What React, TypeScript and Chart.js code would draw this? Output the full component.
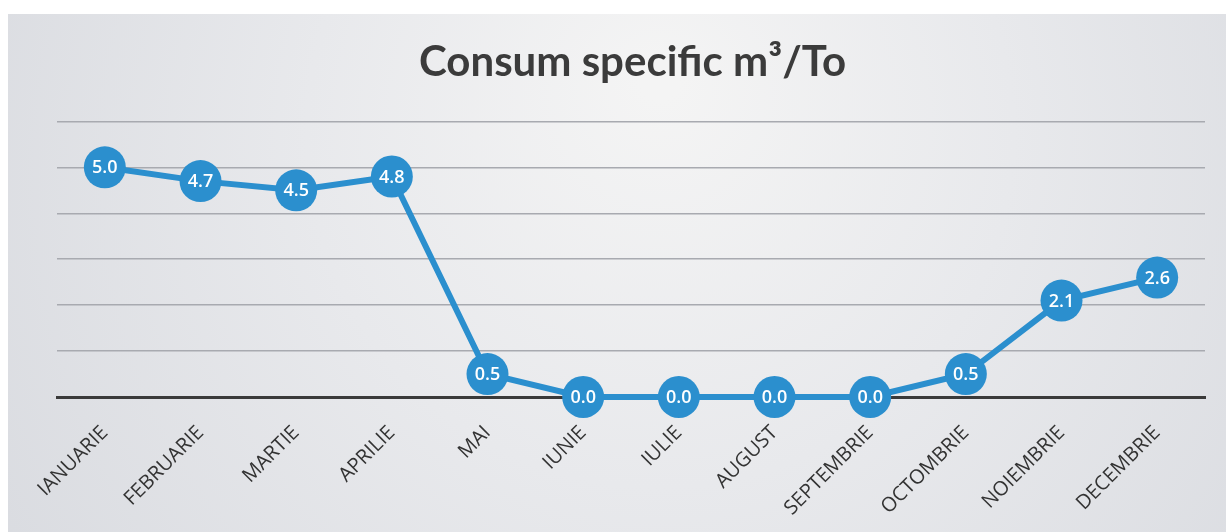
import React, { useEffect, useRef } from "react";
import { Chart, registerables } from "chart.js";

Chart.register(...registerables);

const months = [
  "IANUARIE", "FEBRUARIE", "MARTIE", "APRILIE", "MAI", "IUNIE",
  "IULIE", "AUGUST", "SEPTEMBRIE", "OCTOMBRIE", "NOIEMBRIE", "DECEMBRIE",
];
const consum = [5.0, 4.7, 4.5, 4.8, 0.5, 0.0, 0.0, 0.0, 0.0, 0.5, 2.1, 2.6];
const titleText = "Consum specific m³/To";

const BLUE = "#2b8fce";

const backgroundPlugin = {
  id: "paperBackground",
  beforeDraw(chart: any) {
    const { ctx, width, height } = chart;
    ctx.save();
    ctx.fillStyle = "#ffffff";
    ctx.fillRect(0, 0, width, height);
    const g = ctx.createRadialGradient(660, 80, 20, 660, 200, 760);
    g.addColorStop(0, "#f4f4f4");
    g.addColorStop(0.45, "#e8e9ec");
    g.addColorStop(1, "#d9dbe0");
    ctx.fillStyle = g;
    ctx.fillRect(8, 14, width - 8, height - 14);
    ctx.restore();
  },
};

const valueLabelPlugin = {
  id: "valueLabels",
  afterDatasetsDraw(chart: any) {
    const { ctx } = chart;
    const meta = chart.getDatasetMeta(0);
    const data = chart.data.datasets[0].data as number[];
    ctx.save();
    ctx.fillStyle = "#ffffff";
    ctx.font = "600 18px 'Open Sans', sans-serif";
    ctx.textAlign = "center";
    ctx.textBaseline = "middle";
    meta.data.forEach((pt: any, i: number) => {
      ctx.fillText(data[i].toFixed(1), pt.x, pt.y + 1);
    });
    ctx.restore();
  },
};

export default function App() {
  const ref = useRef<HTMLCanvasElement>(null);

  useEffect(() => {
    document.body.style.margin = "0";
    const chart = new Chart(ref.current!, {
      type: "line",
      data: {
        labels: months,
        datasets: [
          {
            data: consum,
            borderColor: BLUE,
            backgroundColor: BLUE,
            borderWidth: 6,
            pointRadius: 21,
            pointHoverRadius: 21,
            pointBackgroundColor: BLUE,
            pointBorderColor: BLUE,
            pointBorderWidth: 0,
            tension: 0,
            clip: false as any,
          },
        ],
      },
      options: {
        animation: false,
        responsive: false,
        maintainAspectRatio: false,
        layout: { padding: { left: 57, right: 18, top: 0, bottom: 0 } },
        plugins: {
          legend: { display: false },
          tooltip: { enabled: false },
          title: {
            display: true,
            text: titleText,
            color: "#3b3b3b",
            font: { family: "Lato", size: 42, weight: "bold" },
            padding: { top: 37, bottom: 34 },
          },
        },
        scales: {
          x: {
            offset: true,
            grid: { display: false },
            border: { display: true, color: "#3a3a3a", width: 3 },
            ticks: {
              color: "#333333",
              font: { family: "'Open Sans'", size: 20 },
              maxRotation: 45,
              minRotation: 45,
              padding: 16,
              autoSkip: false,
            },
            afterFit(scale: any) {
              scale.height = 135;
            },
          },
          y: {
            min: 0,
            max: 6,
            ticks: { display: false, stepSize: 1 },
            border: { display: false },
            grid: { color: "#a8aab0", lineWidth: 1.5, drawTicks: false },
            afterFit(scale: any) {
              scale.width = 0;
            },
          },
        },
      },
      plugins: [backgroundPlugin, valueLabelPlugin],
    });
    return () => chart.destroy();
  }, []);

  return <canvas ref={ref} width={1226} height={532} style={{ display: "block" }} />;
}
